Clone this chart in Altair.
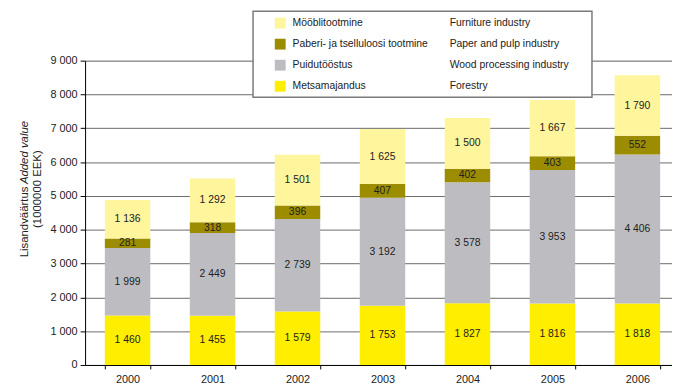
import altair as alt
import pandas as pd

years = ["2000", "2001", "2002", "2003", "2004", "2005", "2006"]
forestry = [1460, 1455, 1579, 1753, 1827, 1816, 1818]
wood = [1999, 2449, 2739, 3192, 3578, 3953, 4406]
paper = [281, 318, 396, 407, 402, 403, 552]
furniture = [1136, 1292, 1501, 1625, 1500, 1667, 1790]

cat_est = ["Metsamajandus", "Puidutööstus", "Paberi- ja tselluloosi tootmine", "Mööblitootmine"]
cat_eng = ["Forestry", "Wood processing industry", "Paper and pulp industry", "Furniture industry"]
cat_colors = ["#FFEE00", "#BDBDC1", "#9C8C00", "#FFF59C"]
series = [forestry, wood, paper, furniture]

FONT = "Liberation Sans"
FS = 10.5
TXT = "#222222"

rows = []
for ci, vals in enumerate(series):
    for yi, y in enumerate(years):
        rows.append({"year": y, "cat": cat_est[ci], "order": ci, "value": vals[yi]})
df = pd.DataFrame(rows)

xscale = alt.Scale(domain=years, range=[0, 602], paddingInner=0.465, paddingOuter=0.2326)
yscale = alt.Scale(domain=[0, 9000], nice=False)

xaxis = alt.Axis(title=None, labelAngle=0, tickBand="extent", domainColor="#000000",
                 tickColor="#000000", tickSize=4, labelPadding=5, grid=False,
                 labelFontSize=11, labelFont=FONT, labelColor=TXT)
yaxis = alt.Axis(title=None, values=list(range(0, 9001, 1000)), labelOverlap=False,
                 labelExpr="replace(format(datum.value, ','), ',', ' ')",
                 grid=True, gridColor="#6a6a6a", gridWidth=1,
                 domainColor="#000000", tickColor="#000000", tickSize=5,
                 labelFontSize=11, labelFont=FONT, labelColor=TXT, labelPadding=3)

base = alt.Chart(df).transform_stack(
    stack="value", groupby=["year"], as_=["y0", "y1"],
    sort=[alt.SortField("order", order="ascending")]
).transform_calculate(
    mid="(datum.y0 + datum.y1) / 2",
    label="replace(format(datum.value, ','), ',', ' ')"
)

bars = base.mark_bar().encode(
    x=alt.X("year:O", scale=xscale, sort=years, axis=xaxis),
    y=alt.Y("y0:Q", scale=yscale, axis=yaxis),
    y2="y1:Q",
    color=alt.Color("cat:N", scale=alt.Scale(domain=cat_est, range=cat_colors), legend=None),
)

labels = base.mark_text(font=FONT, fontSize=FS, color=TXT, baseline="middle").encode(
    x=alt.X("year:O", scale=xscale, sort=years, axis=xaxis),
    y=alt.Y("mid:Q", scale=yscale, axis=yaxis),
    text="label:N",
)

layers = [bars, labels]

# Legend box
dummy = pd.DataFrame({"k": [0]})
box = alt.Chart(dummy).mark_rect(fill="white", stroke="#7a7a7a", strokeWidth=1.5).encode(
    x=alt.value(170), x2=alt.value(513), y=alt.value(-50), y2=alt.value(37)
)
layers.append(box)

legend_order = [3, 2, 1, 0]
for i, ci in enumerate(legend_order):
    yc = -38 + i * 21.3
    d = pd.DataFrame({"est": [cat_est[ci]], "eng": [cat_eng[ci]]})
    sq = alt.Chart(d).mark_rect(fill=cat_colors[ci]).encode(
        x=alt.value(192), x2=alt.value(203), y=alt.value(yc - 5.5), y2=alt.value(yc + 5.5)
    )
    t1 = alt.Chart(d).mark_text(font=FONT, fontSize=FS, color=TXT, align="left", baseline="middle").encode(
        x=alt.value(210), y=alt.value(yc), text="est:N"
    )
    t2 = alt.Chart(d).mark_text(font=FONT, fontSize=FS, color=TXT, align="left", baseline="middle").encode(
        x=alt.value(369), y=alt.value(yc), text="eng:N"
    )
    layers += [sq, t1, t2]

# Y axis title (rotated, mixed styles)
TFS = 11.5
tdf = pd.DataFrame({"a": ["Lisandväärtus"], "b": ["Added value"], "c": ["(1000000 EEK)"]})
ta = alt.Chart(tdf).mark_text(font=FONT, fontSize=TFS, color=TXT, angle=270, align="left", baseline="middle").encode(
    x=alt.value(-61), y=alt.value(199), text="a:N")
tb = alt.Chart(tdf).mark_text(font=FONT, fontSize=TFS, color=TXT, angle=270, align="right", baseline="middle",
                              fontStyle="italic").encode(
    x=alt.value(-61), y=alt.value(61), text="b:N")
tc = alt.Chart(tdf).mark_text(font=FONT, fontSize=TFS, color=TXT, angle=270, align="center", baseline="middle").encode(
    x=alt.value(-48), y=alt.value(130), text="c:N")
layers += [ta, tb, tc]

chart = alt.layer(*layers).properties(
    width=594, height=308,
    autosize=alt.AutoSizeParams(type="none"),
    padding={"left": 78, "top": 51, "right": 0, "bottom": 21},
).configure_view(stroke=None).configure(background="white")

chart.save("out.html", embed_options={"renderer": "svg", "actions": False})
